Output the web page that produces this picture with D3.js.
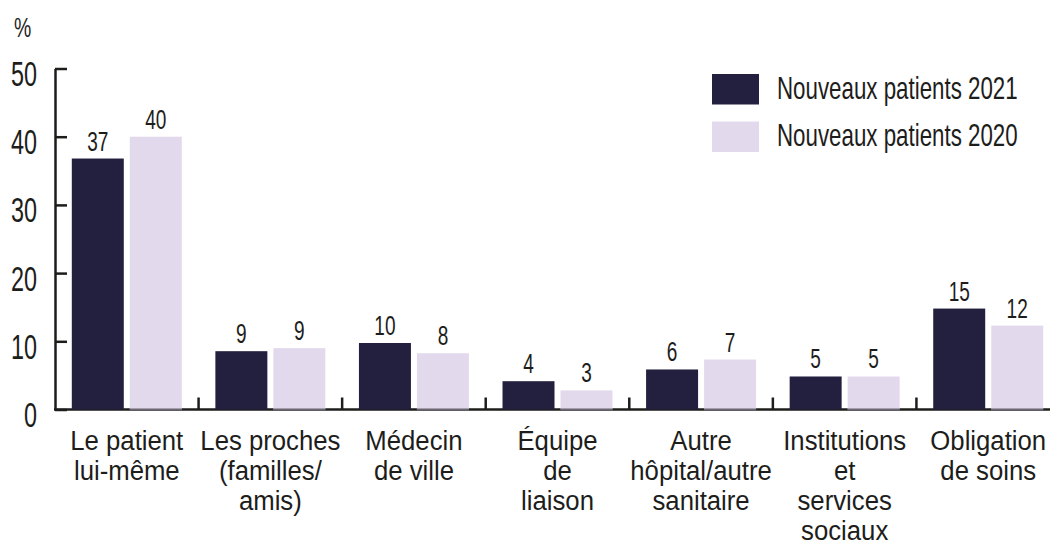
<!DOCTYPE html>
<html>
<head>
<meta charset="utf-8">
<script src="https://cdn.jsdelivr.net/npm/d3@7"></script>
<style>
  html, body { margin: 0; padding: 0; background: #ffffff; }
  svg { display: block; }
  text { font-family: "Liberation Sans", Arial, sans-serif; fill: #1d1d1b; }
</style>
</head>
<body>
<svg id="chart" width="1050" height="545"></svg>
<script>
// ---- Data ----
const categories = [
  "Le patient lui-même",
  "Les proches (familles/ amis)",
  "Médecin de ville",
  "Équipe de liaison",
  "Autre hôpital/autre sanitaire",
  "Institutions et services sociaux",
  "Obligation de soins"
];
const categoryLines = [
  ["Le patient", "lui-même"],
  ["Les proches", "(familles/", "amis)"],
  ["Médecin", "de ville"],
  ["Équipe", "de", "liaison"],
  ["Autre", "hôpital/autre", "sanitaire"],
  ["Institutions", "et", "services", "sociaux"],
  ["Obligation", "de soins"]
];
const seriesNames = ["Nouveaux patients 2021", "Nouveaux patients 2020"];
const values2021 = [36.8, 8.55, 9.75, 4.15, 5.87, 4.84, 14.8];
const values2020 = [40.0, 9.0, 8.25, 2.8, 7.33, 4.84, 12.3];
const yTicks = [0, 10, 20, 30, 40, 50];
const yUnit = "%";

// ---- Styles / layout ----
const colors = ["#23203f", "#e3d9ec"];
const axisColor = "#1d1d1b";
const svg = d3.select("#chart");

const x0 = d3.scaleBand()
  .domain(categories)
  .range([55, 1060])
  .paddingInner(0.234)
  .paddingOuter(0.117);
const x1 = d3.scaleBand()
  .domain(seriesNames)
  .range([0, x0.bandwidth()])
  .paddingInner(6 / 58);
const y = d3.scaleLinear().domain([0, 50]).range([409.5, 68.5]);

const rows = categories.map((c, i) => ({
  cat: c,
  vals: [
    { s: seriesNames[0], v: values2021[i] },
    { s: seriesNames[1], v: values2020[i] }
  ]
}));

// y axis
const yAxis = d3.axisLeft(y).tickValues(yTicks).tickSize(-12).tickSizeOuter(0);
const gy = svg.append("g").attr("transform", "translate(55,0)").call(yAxis);
gy.select(".domain").attr("stroke", axisColor).attr("stroke-width", 2.5);
gy.selectAll(".tick line").attr("stroke", axisColor).attr("stroke-width", 2.5);
gy.selectAll(".tick text")
  .attr("x", null).attr("dy", null)
  .attr("transform", "translate(-18,17) scale(0.65,1)")
  .attr("text-anchor", "end")
  .style("font-size", "36px")
  .style("font-family", '"Liberation Sans", Arial, sans-serif')
  .attr("fill", axisColor);

// unit label
svg.append("text")
  .attr("transform", "translate(14,37) scale(0.72,1)")
  .style("font-size", "27px")
  .text(yUnit);

// x axis line
svg.append("line")
  .attr("x1", 54).attr("x2", 1050)
  .attr("y1", y(0)).attr("y2", y(0))
  .attr("stroke", axisColor).attr("stroke-width", 2.5);

// category separator ticks
const step = x0.step();
svg.append("g").selectAll("line")
  .data(categories)
  .join("line")
  .attr("x1", d => x0(d) + x0.bandwidth() + step * x0.paddingInner() / 2)
  .attr("x2", d => x0(d) + x0.bandwidth() + step * x0.paddingInner() / 2)
  .attr("y1", y(0)).attr("y2", y(0) - 12)
  .attr("stroke", axisColor).attr("stroke-width", 2.5);

// bars
const groups = svg.append("g").selectAll("g")
  .data(rows)
  .join("g")
  .attr("transform", d => `translate(${x0(d.cat)},0)`);

groups.selectAll("rect")
  .data(d => d.vals)
  .join("rect")
  .attr("x", d => x1(d.s))
  .attr("width", x1.bandwidth())
  .attr("y", d => y(d.v))
  .attr("height", d => y(0) - y(d.v))
  .attr("fill", (d, i) => colors[i]);

// gray baseline under light bars
groups.selectAll("line.base")
  .data(d => [d.vals[1]])
  .join("line")
  .attr("class", "base")
  .attr("x1", d => x1(d.s)).attr("x2", d => x1(d.s) + x1.bandwidth())
  .attr("y1", y(0)).attr("y2", y(0))
  .attr("stroke", "#6d6772").attr("stroke-width", 2);

// value labels
groups.selectAll("text.val")
  .data(d => d.vals)
  .join("text")
  .attr("class", "val")
  .attr("text-anchor", "middle")
  .attr("transform", d => `translate(${x1(d.s) + x1.bandwidth() / 2},${y(d.v) - 8}) scale(0.68,1)`)
  .style("font-size", "28px")
  .text(d => Math.round(d.v));

// category labels, one text per line
const catG = svg.append("g").selectAll("g")
  .data(categories)
  .join("g")
  .attr("transform", d => `translate(${x0(d) + x0.bandwidth() / 2},450)`);
catG.selectAll("text")
  .data((d, i) => categoryLines[i])
  .join("text")
  .attr("text-anchor", "middle")
  .attr("transform", (d, j) => `translate(0,${j * 30.1}) scale(0.96,1)`)
  .style("font-size", "26.8px")
  .text(d => d);

// legend
const leg = svg.append("g").selectAll("g")
  .data(seriesNames)
  .join("g")
  .attr("transform", (d, i) => `translate(712,${74 + i * 47.5})`);
leg.append("rect")
  .attr("width", 47).attr("height", 30.5)
  .attr("fill", (d, i) => colors[i]);
leg.append("text")
  .attr("transform", "translate(65,24.5) scale(0.72,1)")
  .style("font-size", "31px")
  .text(d => d);
</script>
</body>
</html>
